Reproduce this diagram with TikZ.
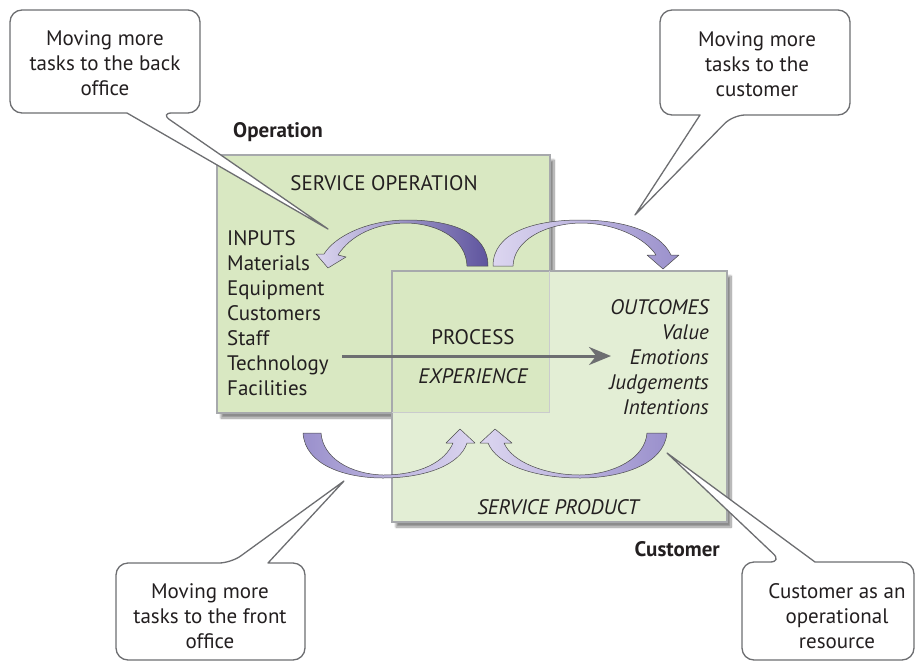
\documentclass[tikz,border=0pt]{standalone}
\usepackage{fontspec}
\setmainfont{PT Sans}
\usetikzlibrary{arrows.meta,shadows.blur}
\definecolor{opfill}{HTML}{D9E8C2}
\definecolor{cufill}{HTML}{E3EED5}
\definecolor{boxline}{HTML}{A7A9AC}
\definecolor{calline}{HTML}{6D6E71}
\definecolor{txtcol}{HTML}{231F20}
\definecolor{rlight}{HTML}{DCD6F0}
\definecolor{rdark}{HTML}{5E549E}
\definecolor{rmid}{HTML}{9A90CC}
\begin{document}
\begin{tikzpicture}[x=1pt,y=-1pt,
  bigbox/.style={draw=boxline, line width=1.2pt, inner sep=0pt,
     blur shadow={shadow xshift=4pt, shadow yshift=-5pt, shadow blur steps=10, shadow opacity=45}},
  callout/.style={draw=calline, line width=1.3pt, fill=white, line join=round},
  ctext/.style={align=center, text=txtcol, font=\fontsize{21}{25}\selectfont, inner sep=0pt},
  ltext/.style={text=txtcol, font=\fontsize{21}{25}\selectfont, inner sep=0pt},
  btext/.style={text=txtcol, font=\fontsize{21}{25}\selectfont\bfseries, inner sep=0pt},
  itext/.style={text=txtcol, font=\fontsize{21}{25}\selectfont\itshape, inner sep=0pt},
  ribbon/.style={draw=black!70, line width=0.5pt, line join=round},
  flow/.style={draw=calline, line width=3pt, -{Stealth[length=22pt,width=18pt]}}
]
\useasboundingbox (0,0) rectangle (921,662);

% main boxes
\node[bigbox, fill=opfill, minimum width=333pt, minimum height=258pt] (op) at (383.5,284) {};
\node[bigbox, fill=cufill, minimum width=335pt, minimum height=251pt] (cu) at (559.5,396.5) {};
% overlap region shows the operation colour
\fill[opfill] (393,272) rectangle (549.4,412.4);
\draw[boxline!60, line width=1pt] (549.4,271) -- (549.4,412.4) -- (392,412.4);
\draw[boxline, line width=1.2pt] (cu.north west) rectangle (cu.south east);

% labels
\node[btext, anchor=west] (opl) at (233,132) {Operation};
\node[btext, anchor=east] (cul) at (720,549) {Customer};
\node[ltext] (so) at (384,183) {SERVICE OPERATION};
\node[ltext, align=left, anchor=west] (inputs) at (227,313.5)
  {INPUTS\\Materials\\Equipment\\Customers\\Staff\\Technology\\Facilities};
\node[ltext] (proc) at (473,337) {PROCESS};
\node[itext] (exp) at (473,376) {EXPERIENCE};
\node[itext, align=right, anchor=east] (outc) at (709,357.5)
  {OUTCOMES\\Value\\Emotions\\Judgements\\Intentions};
\node[itext] (sp) at (558,507) {SERVICE PRODUCT};

% process arrow
\coordinate (pa) at (342,356);
\coordinate (pb) at (611,356);
\draw[flow] (pa) -- (pb);

% curved ribbon arrows
\path[ribbon, left color=rlight, right color=rdark]
  (488,266) .. controls (488,232) and (450,220) .. (407,220)
  .. controls (368,220) and (335,236) .. (324,254) -- (316,254) -- (328,268) -- (346,257) -- (338,255)
  .. controls (350,236) and (375,223) .. (407,223)
  .. controls (440,224) and (466,240) .. (467,266) -- cycle;
\path[ribbon, left color=rlight, right color=rmid]
  (493,266) .. controls (493,232) and (535,220) .. (580,220)
  .. controls (625,220) and (660,232) .. (671,255) -- (679,255) -- (663,269) -- (647,255) -- (656,255)
  .. controls (645,238) and (615,223) .. (580,223)
  .. controls (545,224) and (514,240) .. (513,266) -- cycle;
\path[ribbon, left color=rmid, right color=rlight]
  (303,433) .. controls (305,465) and (345,478) .. (383,478)
  .. controls (425,478) and (460,465) .. (467,443) -- (475,443) -- (460,429) -- (446,443) -- (453,443)
  .. controls (445,462) and (420,475) .. (383,475)
  .. controls (350,474) and (323,458) .. (321,433) -- cycle;
\path[ribbon, left color=rlight, right color=rmid]
  (667,433) .. controls (664,465) and (620,478) .. (580,478)
  .. controls (535,478) and (497,465) .. (488,443) -- (480,443) -- (495,429) -- (512,443) -- (504,443)
  .. controls (512,462) and (545,475) .. (580,475)
  .. controls (615,474) and (645,458) .. (647,433) -- cycle;

% callouts
\coordinate (tip1) at (328,229);
\coordinate (tip2) at (635,215);
\coordinate (tip3) at (344,481);
\coordinate (tip4) at (667,453);

\draw[callout] (10,60) [rounded corners=12pt] -- (10,10) -- (200,10) -- (200,113) -- (160,113)
   [sharp corners] -- (tip1) -- (127,113) [rounded corners=12pt] -- (10,113) -- cycle;
\draw[callout] (660,60) [rounded corners=12pt] -- (660,10) -- (850,10) -- (850,115) -- (733,115)
   [sharp corners] -- (tip2) -- (700,115) [rounded corners=12pt] -- (660,115) -- cycle;
\draw[callout] (116,620) [rounded corners=12pt] -- (116,563) -- (231,563) [sharp corners] -- (tip3)
   -- (268,563) [rounded corners=12pt] -- (305,563) -- (305,660) -- (116,660) -- cycle;
\draw[callout] (742,620) [rounded corners=12pt] -- (742,562) -- (782,562) [sharp corners] -- (tip4)
   -- (815,562) [rounded corners=12pt] -- (914,562) -- (914,660) -- (742,660) -- cycle;

\node[ctext] (c1) at (105,63) {Moving more\\tasks to the back\\office};
\node[ctext] (c2) at (757,64) {Moving more\\tasks to the\\customer};
\node[ctext] (c3) at (210,616) {Moving more\\tasks to the front\\office};
\node[ctext] (c4) at (837,616) {Customer as an\\operational\\resource};
\end{tikzpicture}
\end{document}
